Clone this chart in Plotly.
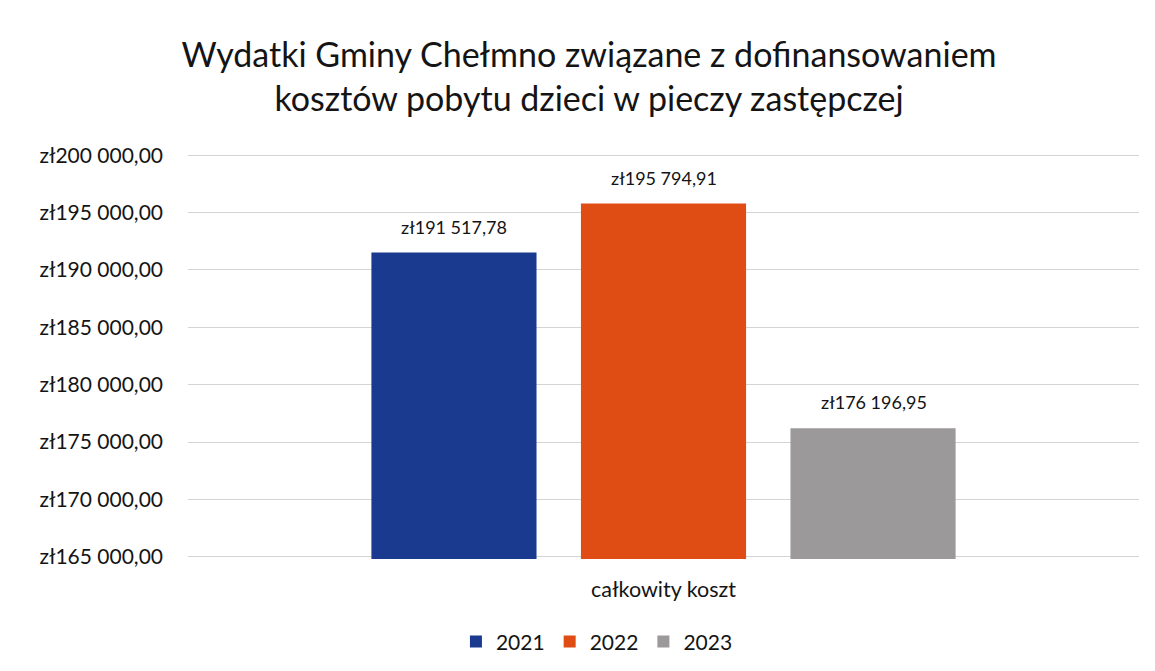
import plotly.graph_objects as go

title_text = "Wydatki Gminy Chełmno związane z dofinansowaniem<br>kosztów pobytu dzieci w pieczy zastępczej"
category = ["całkowity koszt"]
years = ["2021", "2022", "2023"]
values = [191517.78, 195794.91, 176196.95]
labels = ["zł191 517,78", "zł195 794,91", "zł176 196,95"]
colors = ["#193a8e", "#df4c14", "#9b9999"]
tick_vals = [165000, 170000, 175000, 180000, 185000, 190000, 195000, 200000]
tick_text = ["zł165 000,00", "zł170 000,00", "zł175 000,00", "zł180 000,00",
             "zł185 000,00", "zł190 000,00", "zł195 000,00", "zł200 000,00"]

FONT = "Lato"
TXT = "#141414"
label_xshift = [-210, 0, 210]

fig = go.Figure()
for yr, v, c in zip(years, values, colors):
    fig.add_trace(go.Bar(
        x=category, y=[v], name=yr, marker=dict(color=c, line=dict(width=0)),
    ))

for v, lab, dx in zip(values, labels, label_xshift):
    fig.add_annotation(x=category[0], y=v, xref="x", yref="y", text=lab,
                       showarrow=False, xshift=dx, yshift=26, yanchor="middle",
                       font=dict(size=18, color=TXT, family=FONT))

fig.update_layout(
    width=1155, height=671,
    paper_bgcolor="white", plot_bgcolor="white",
    barmode="group", bargap=0.339, bargroupgap=0.212,
    margin=dict(l=188, r=16, t=153, b=112, autoexpand=False),
    title=dict(text=title_text, x=0.51, xanchor="center", y=0.9, yanchor="middle",
               font=dict(size=34, color=TXT, family=FONT)),
    font=dict(family=FONT, color=TXT),
    showlegend=True,
    legend=dict(orientation="h", x=0.43, xanchor="center", y=-0.204, yanchor="middle",
                font=dict(size=21, color=TXT, family=FONT),
                itemwidth=30, traceorder="normal"),
)
fig.update_yaxes(range=[164800, 200200], tickvals=tick_vals, ticktext=tick_text,
                 showgrid=True, gridcolor="#d4d4d4", gridwidth=1, zeroline=False,
                 showline=False, ticks="", automargin=False,
                 tickfont=dict(size=21, family=FONT, color=TXT),
                 ticklabelstandoff=24)
fig.update_xaxes(showgrid=False, showline=False, ticks="", automargin=False,
                 ticklabelstandoff=15,
                 tickfont=dict(size=21.5, family=FONT, color=TXT))

fig.write_html("out.html", config={"displayModeBar": False},
               post_script="document.body.style.margin='0';")
